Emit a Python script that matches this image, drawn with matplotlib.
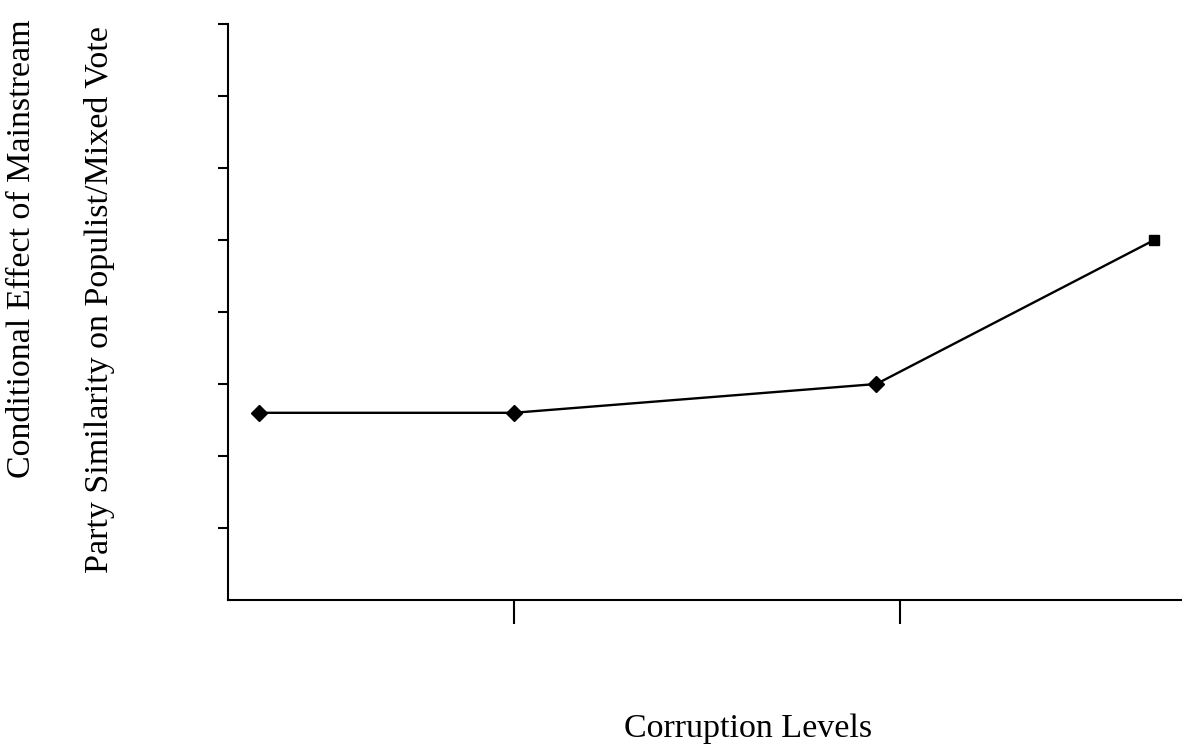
import matplotlib.pyplot as plt

# valores
corrupcao = [0.34, 1.0, 1.94, 2.66]
efeito = [2.6, 2.6, 3.0, 5.0]
marcadores = ['D', 'D', 'D', 's']

plt.rcParams['font.family'] = 'Liberation Serif'

fig = plt.figure(figsize=(11.82, 7.47), dpi=100)
ax = fig.add_axes([228 / 1182, 1 - 600 / 747, 954 / 1182, 576 / 747])

ax.plot(corrupcao, efeito, color='black', lw=1.7, zorder=2)
for x, y, m in zip(corrupcao, efeito, marcadores):
    ax.plot(x, y, marker=m, color='black', ms=8.5 if m == 'D' else 7.5, zorder=3)

ax.set_xlim(0.26, 2.732)
ax.set_ylim(0, 8)
ax.set_xticks([1, 2])
ax.set_yticks(range(1, 9))
ax.set_xticklabels([])
ax.set_yticklabels([])
ax.tick_params(axis='y', direction='out', length=7.5, width=1.5)
ax.tick_params(axis='x', direction='out', length=17.5, width=1.5)

for s in ['top', 'right']:
    ax.spines[s].set_visible(False)
for s in ['left', 'bottom']:
    ax.spines[s].set_linewidth(1.5)

fig.text(748 / 1182, 1 - 737 / 747, 'Corruption Levels', fontsize=24.5,
         ha='center', va='baseline')
fig.text(22 / 1182, 1 - 249 / 747, 'Conditional Effect of Mainstream',
         fontsize=24.5, rotation=90, ha='center', va='center')
fig.text(100 / 1182, 1 - 300 / 747, 'Party Similarity on Populist/Mixed Vote',
         fontsize=24.5, rotation=90, ha='center', va='center')

fig.savefig('out.png', dpi=100)
